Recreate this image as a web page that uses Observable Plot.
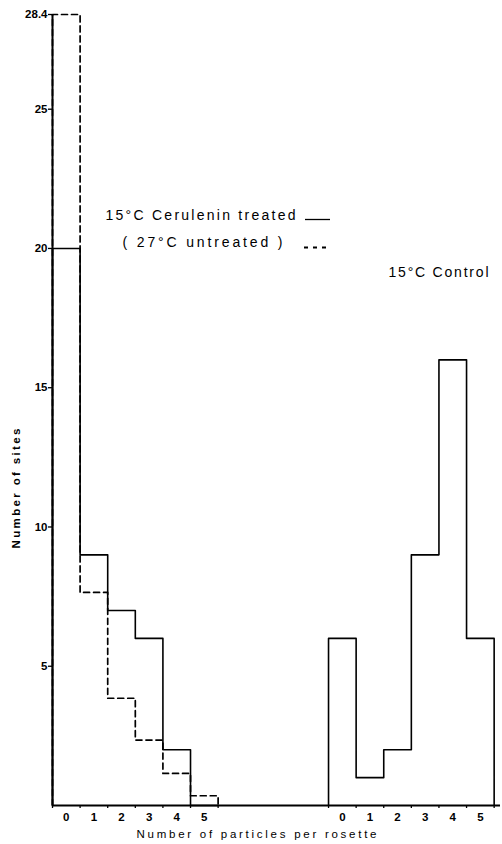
<!DOCTYPE html>
<html><head><meta charset="utf-8">
<script src="https://cdn.jsdelivr.net/npm/d3@7"></script>
<script src="https://cdn.jsdelivr.net/npm/@observablehq/plot@0.6"></script>
<style>
body{margin:0;background:#fff}
svg{display:block}
</style>
</head><body><div id="chart"></div>
<script>
// Data
const particles = [0, 1, 2, 3, 4, 5];
const cerulenin15 = [20, 9, 7, 6, 2, 0];           // 15°C Cerulenin treated (solid)
const untreated27 = [28.4, 7.65, 3.85, 2.35, 1.15, 0.35]; // 27°C untreated (dashed)
const control15 = [6, 1, 2, 9, 16, 6];             // 15°C Control (solid, right group)
const yTicks = [5, 10, 15, 20, 25, 28.4];
const leftStart = 0, rightStart = 10;

function outline(values, start) {
  const pts = [{x: start, y: 0}];
  values.forEach((v, i) => pts.push({x: start + i, y: v}));
  pts.push({x: start + values.length, y: 0});
  return pts;
}
const edges = [...particles, 6].map(d => d + leftStart).concat([...particles, 6].map(d => d + rightStart));
const labelsData = particles.map(d => ({x: d + leftStart + 0.5, t: d})).concat(particles.map(d => ({x: d + rightStart + 0.5, t: d})));

const W = 502, H = 844, mL = 52, mR = 2, mT = 14, mB = 39;
const xMax = 16.23;
const px = (W - mL - mR) / xMax;
const py = (H - mT - mB) / 28.4;
const X = p => (p - mL) / px;     // pixel -> x units
const Y = p => (H - mB - p) / py; // pixel -> y units

const font = "'Liberation Sans', Arial, Helvetica, sans-serif";

const chart = Plot.plot({
  width: W, height: H,
  marginLeft: mL, marginRight: mR, marginTop: mT, marginBottom: mB,
  x: {domain: [0, xMax], axis: null},
  y: {domain: [0, 28.4], axis: null},
  style: {fontFamily: font, color: "#000", background: "#fff", overflow: "visible"},
  marks: [
    Plot.line(outline(untreated27, leftStart), {x: "x", y: "y", curve: "step-after", stroke: "#000", strokeWidth: 1.7, strokeDasharray: "6,4"}),
    Plot.line(outline(cerulenin15, leftStart), {x: "x", y: "y", curve: "step-after", stroke: "#000", strokeWidth: 1.6}),
    Plot.line(outline(control15, rightStart), {x: "x", y: "y", curve: "step-after", stroke: "#000", strokeWidth: 1.6}),
    Plot.ruleX([0], {y1: 0, y2: 28.4, stroke: "#000", strokeWidth: 2}),
    Plot.ruleY([0], {stroke: "#000", strokeWidth: 2}),
    Plot.axisY({ticks: yTicks, tickSize: 4, tickFormat: () => "", label: null, stroke: "#000", strokeWidth: 1.3}),
    Plot.text(yTicks, {x: 0, y: d => d, text: d => String(d), dx: -5, textAnchor: "end", fontSize: 11.5, fontWeight: "bold"}),
    Plot.axisX({ticks: edges, tickSize: 3, tickFormat: () => "", label: null, stroke: "#000", strokeWidth: 1.3}),
    Plot.text(labelsData, {x: "x", y: 0, text: "t", dy: 12, fontSize: 11.5, fontWeight: "bold"}),
    Plot.text(["Number of particles per rosette"], {x: X(256), y: Y(834), fontSize: 11.5, textAnchor: "middle"}),
    Plot.text(["Number of sites"], {x: X(16), y: Y(488), fontSize: 11.5, fontWeight: "bold", rotate: -90}),
    Plot.text(["15°C Cerulenin treated"], {x: X(105), y: Y(215), fontSize: 14, textAnchor: "start"}),
    Plot.text(["( 27°C untreated )"], {x: X(122), y: Y(242), fontSize: 14, textAnchor: "start"}),
    Plot.text(["15°C Control"], {x: X(388), y: Y(272), fontSize: 14, textAnchor: "start"}),
    Plot.ruleY([Y(219)], {x1: X(305), x2: X(330), stroke: "#000", strokeWidth: 1.3}),
    Plot.ruleY([Y(247)], {x1: X(304), x2: X(327), stroke: "#000", strokeWidth: 2.2, strokeDasharray: "4,5"})
  ]
});

// Stretch spaced-out text to the widths in the reference
const widths = {
  "Number of particles per rosette": 240,
  "Number of sites": 120,
  "15°C Cerulenin treated": 190,
  "( 27°C untreated )": 160,
  "15°C Control": 100
};
chart.querySelectorAll("text").forEach(t => {
  const w = widths[t.textContent];
  if (w) { t.setAttribute("textLength", w); t.setAttribute("lengthAdjust", "spacing"); }
});
document.getElementById("chart").appendChild(chart);
</script>
</body></html>
